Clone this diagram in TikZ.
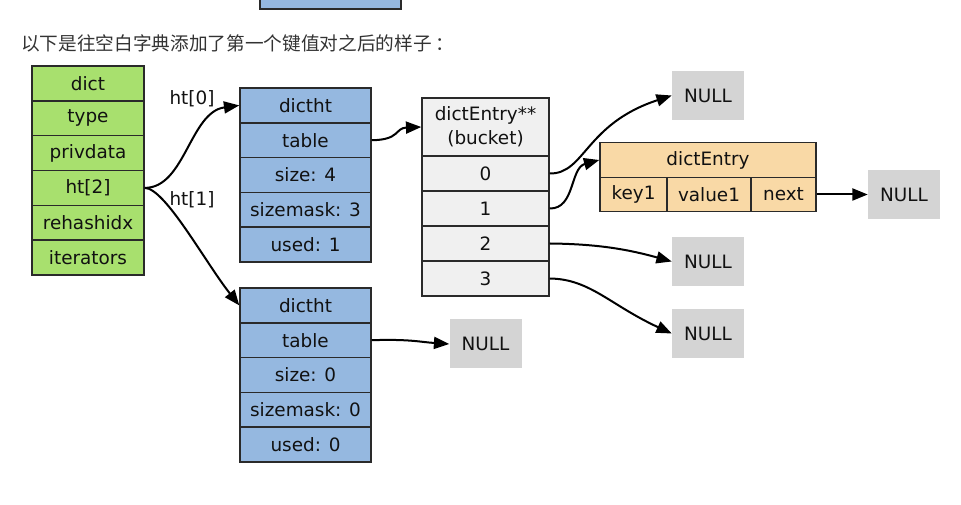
\documentclass[tikz,border=0pt]{standalone}
\usepackage{fontspec}
\setmainfont{DejaVu Sans}
\newfontfamily\cjk{Noto Sans CJK SC}
\usetikzlibrary{arrows.meta}
\definecolor{gfill}{HTML}{A8E06E}
\definecolor{bfill}{HTML}{95B8E0}
\definecolor{kfill}{HTML}{F0F0F0}
\definecolor{ofill}{HTML}{F9D9A6}
\definecolor{nfill}{HTML}{D4D4D4}
\definecolor{edge}{HTML}{2A2A2A}
\definecolor{txt}{HTML}{111111}
\tikzset{
  cell/.style={draw=edge, line width=1.1pt, rectangle, inner sep=0pt, text=txt,
    font=\fontsize{13.8}{16}\selectfont, align=center},
  gcell/.style={cell, fill=gfill, minimum width=112*0.75pt, minimum height=34.83*0.75pt},
  bcell/.style={cell, fill=bfill, minimum width=131*0.75pt, minimum height=34.8*0.75pt},
  kcell/.style={cell, fill=kfill, minimum width=127*0.75pt, minimum height=35*0.75pt},
  ocell/.style={cell, fill=ofill, minimum height=34.5*0.75pt},
  nullbox/.style={rectangle, fill=nfill, inner sep=0pt, text=txt,
    minimum width=72*0.75pt, minimum height=49*0.75pt, font=\fontsize{13.8}{16}\selectfont},
  lbl/.style={text=txt, font=\fontsize{13.8}{16}\selectfont, inner sep=0pt},
  arr/.style={-{Triangle[length=11.5pt,width=9pt]}, line width=1.5pt, draw=black}
}
\begin{document}
\begin{tikzpicture}[x=0.75pt,y=-0.75pt]
\useasboundingbox (0,0) rectangle (961,505);
% partial box at top
\node[bcell, minimum height=40*0.75pt, minimum width=141*0.75pt] (topbox) at (330.5,-11) {};
% caption
\node[anchor=west, inner sep=0pt, text=black!80, font=\cjk\fontsize{14}{16}\selectfont] (cap) at (21,43) {以下是往空白字典添加了第一个键值对之后的样子\,：};
% dict
\node[gcell] (d0) at (88,83.4) {dict};
\node[gcell] (d1) at (88,118.2) {type};
\node[gcell] (d2) at (88,153.1) {privdata};
\node[gcell] (d3) at (88,187.9) {ht[2]};
\node[gcell] (d4) at (88,222.8) {rehashidx};
\node[gcell] (d5) at (88,257.6) {iterators};
% dictht 0
\node[bcell] (a0) at (305.5,105.4) {dictht};
\node[bcell] (a1) at (305.5,140.2) {table};
\node[bcell] (a2) at (305.5,175) {size: 4};
\node[bcell] (a3) at (305.5,209.8) {sizemask: 3};
\node[bcell] (a4) at (305.5,244.6) {used: 1};
% dictht 1
\node[bcell] (b0) at (305.5,305.4) {dictht};
\node[bcell] (b1) at (305.5,340.2) {table};
\node[bcell] (b2) at (305.5,375) {size: 0};
\node[bcell] (b3) at (305.5,409.8) {sizemask: 0};
\node[bcell] (b4) at (305.5,444.6) {used: 0};
% bucket
\node[kcell, minimum height=58*0.75pt, font=\fontsize{13.8}{18}\selectfont] (kh) at (485.5,127) {dictEntry**\\(bucket)};
\node[kcell] (k0) at (485.5,173.5) {0};
\node[kcell] (k1) at (485.5,208.5) {1};
\node[kcell] (k2) at (485.5,243.5) {2};
\node[kcell] (k3) at (485.5,278.5) {3};
% dictEntry
\node[ocell, minimum width=216*0.75pt] (eh) at (708,160) {dictEntry};
\node[ocell, minimum width=67*0.75pt] (ek) at (633.5,194.5) {key1};
\node[ocell, minimum width=84*0.75pt] (ev) at (709,194.5) {value1};
\node[ocell, minimum width=65*0.75pt] (en) at (783.5,194.5) {next};
% NULLs
\node[nullbox] (n1) at (708,95.5) {NULL};
\node[nullbox] (n5) at (904,194.5) {NULL};
\node[nullbox] (n2) at (708,261.5) {NULL};
\node[nullbox] (n3) at (708,333.5) {NULL};
\node[nullbox] (n4) at (485.5,344) {NULL};
% labels
\node[lbl] (l0) at (192,99) {ht[0]};
\node[lbl] (l1) at (192,200) {ht[1]};
% arrows
\draw[arr] (d3.east) .. controls (185,188) and (190,112) .. (a0.west);
\draw[arr] (d3.east) .. controls (165,188) and (205,262) .. (b0.west);
\draw[arr] (a1.east) .. controls (400,140) and (395,128) .. (kh.west);
\draw[arr] (k0.east) .. controls (585,174) and (585,124) .. (n1.west);
\draw[arr] (k1.east) .. controls (575,209) and (570,168) .. (eh.west);
\draw[arr] (en.east) -- (n5.west);
\draw[arr] (k2.east) .. controls (600,244) and (630,250) .. (n2.west);
\draw[arr] (k3.east) .. controls (590,279) and (610,305) .. (n3.west);
\draw[arr] (b1.east) .. controls (410,339) and (420,342) .. (n4.west);
\end{tikzpicture}
\end{document}
